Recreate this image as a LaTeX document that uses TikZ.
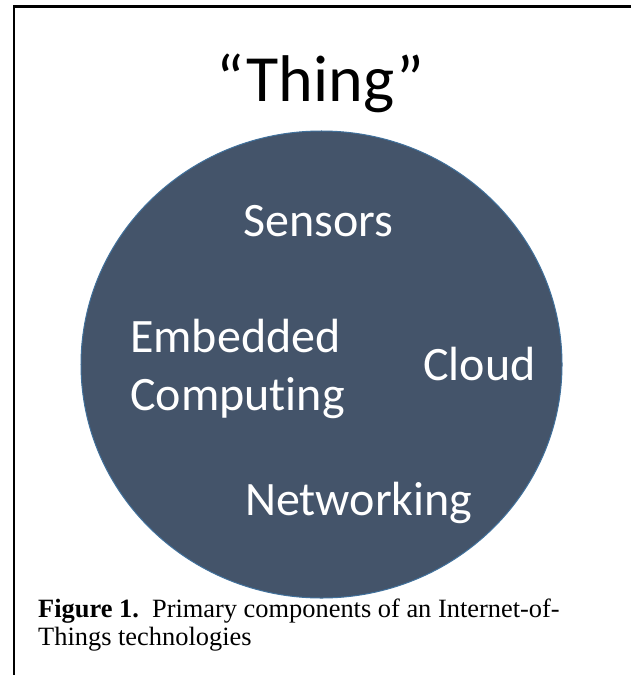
\documentclass[tikz,border=0pt]{standalone}
\usepackage{fontspec}
\setmainfont{Liberation Serif}
\newfontfamily\calibri[Ligatures=NoCommon]{Carlito}
\usetikzlibrary{shapes.geometric}
\definecolor{discfill}{HTML}{44546A}
\definecolor{discline}{HTML}{41719C}
\tikzset{
  frameline/.style={line width=2.3bp, black},
  disc/.style={ellipse, draw=discline, fill=discfill, line width=1bp, inner sep=0pt},
  inlabel/.style={anchor=base west, inner sep=0pt, text=white, font=\calibri\fontsize{48bp}{58bp}\selectfont},
  titlelabel/.style={anchor=base west, inner sep=0pt, text=black, font=\calibri\fontsize{66bp}{80bp}\selectfont},
  caplabel/.style={anchor=base west, inner sep=0pt, text=black, font=\fontsize{26.4bp}{28bp}\selectfont}
}
\begin{document}
\begin{tikzpicture}[x=1bp,y=-1bp]
\useasboundingbox (0,0) rectangle (631,675);
\fill[white] (0,0) rectangle (631,675);
\coordinate (tr) at (631,6.5);
\coordinate (tl) at (14.3,6.5);
\coordinate (bl) at (14.3,675);
\draw[frameline] (tr) -- (tl) -- (bl);
\node[disc, minimum width=481bp, minimum height=467bp] (thing) at (321.5,364.5) {};
\node[titlelabel] (title) at (216,102) {“Thing”};
\node[inlabel] (sensors) at (243,236) {Sensors};
\node[inlabel] (embedded) at (130,352) {Embedded};
\node[inlabel] (computing) at (130,410) {Computing};
\node[inlabel] (cloud) at (423,380) {Cloud};
\node[inlabel] (networking) at (245,515) {Networking};
\node[caplabel] (cap1) at (38,617) {\textbf{Figure 1.}\ \ Primary components of an Internet-of-};
\node[caplabel] (cap2) at (38,645) {Things technologies};
\end{tikzpicture}
\end{document}
